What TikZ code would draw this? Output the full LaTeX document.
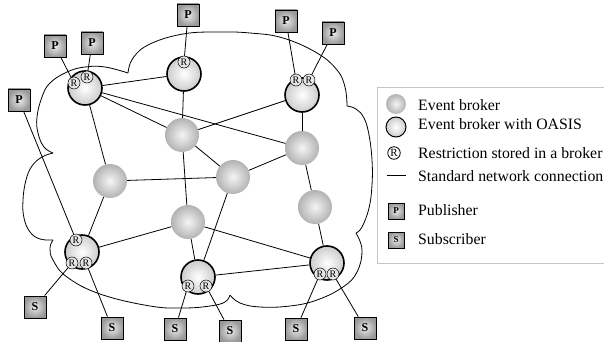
\documentclass[tikz,border=0pt]{standalone}
\usepackage{fontspec}
\setmainfont{Liberation Serif}

\tikzstyle{broker}=[circle, minimum size=34pt, inner sep=0pt, inner color=gray!8, outer color=gray!60]
\tikzstyle{oasis}=[circle, minimum size=34pt, inner sep=0pt, draw, line width=1.6pt, inner color=white, outer color=gray!40]
\tikzstyle{restr}=[circle, minimum size=12pt, inner sep=0pt, draw, line width=0.5pt, fill=gray!20, font=\fontsize{10}{10}\selectfont]
\tikzstyle{client}=[rectangle, minimum size=22pt, inner sep=0pt, draw, line width=0.8pt, inner color=gray!15, outer color=gray!80, font=\fontsize{12}{12}\selectfont\bfseries]
\tikzstyle{link}=[line width=0.8pt]
\tikzstyle{legend}=[anchor=west, inner sep=0pt, font=\fontsize{15.8}{18}\selectfont]

\begin{document}
\begin{tikzpicture}[x=1pt, y=-1pt]
      \useasboundingbox (0,0) rectangle (604,342);

      \draw[link] plot[smooth, tension=0.7] coordinates {(128,73) (133,58) (150,44) (183,34) (217,32) (250,33) (283,38) (317,53) (337,70) (345,87) (347,106)};
      \draw[link] plot[smooth, tension=0.7] coordinates {(347,106) (356,109) (364,118) (369,135) (372,160) (372,185) (369,208) (362,227) (356,233)};
      \draw[link] plot[smooth, tension=0.7] coordinates {(356,233) (362,250) (357,272) (343,287) (317,300) (290,306) (260,307) (240,303) (230,295)};
      \draw[link] plot[smooth, tension=0.7] coordinates {(230,295) (225,302) (210,306) (183,308) (150,306) (100,294) (67,277) (53,260) (50,248) (53,240)};
      \draw[link] plot[smooth, tension=0.7] coordinates {(53,240) (40,239) (30,232) (24,218) (23,200) (26,180) (32,166) (42,157) (53,153)};
      \draw[link] plot[smooth, tension=0.7] coordinates {(53,153) (44,147) (38,133) (37,117) (42,97) (50,83) (67,72) (85,67) (105,67) (128,73)};

      \node[oasis] (oa) at (85, 88) {};
      \node[oasis] (ob) at (184, 74) {};
      \node[oasis] (oc) at (302, 95) {};
      \node[oasis] (od) at (82, 252) {};
      \node[oasis] (oe) at (198, 277) {};
      \node[oasis] (of) at (327, 263) {};

      \node[broker] (ea) at (182, 135) {};
      \node[broker] (eb) at (302, 148) {};
      \node[broker] (ec) at (233, 177) {};
      \node[broker] (ed) at (110, 181) {};
      \node[broker] (ee) at (188, 222) {};
      \node[broker] (ef) at (315, 207) {};

      \node[restr] (ra1) at (74, 83) {R};
      \node[restr] (ra2) at (87, 77) {R};
      \node[restr] (rb1) at (184, 62) {R};
      \node[restr] (rc1) at (296, 80) {R};
      \node[restr] (rc2) at (309, 80) {R};
      \node[restr] (rd1) at (76, 240) {R};
      \node[restr] (rd2) at (72, 263) {R};
      \node[restr] (rd3) at (86, 263) {R};
      \node[restr] (re1) at (188, 286) {R};
      \node[restr] (re2) at (206, 286) {R};
      \node[restr] (rf1) at (320, 274) {R};
      \node[restr] (rf2) at (333, 274) {R};

      \node[client] (p1) at (19, 100) {P};
      \node[client] (p2) at (55, 46) {P};
      \node[client] (p3) at (92, 43) {P};
      \node[client] (p4) at (188, 15) {P};
      \node[client] (p5) at (286, 21) {P};
      \node[client] (p6) at (333, 33) {P};

      \node[client] (s1) at (35, 307) {S};
      \node[client] (s2) at (112, 328) {S};
      \node[client] (s3) at (175, 329) {S};
      \node[client] (s4) at (230, 331) {S};
      \node[client] (s5) at (296, 329) {S};
      \node[client] (s6) at (365, 328) {S};

      \draw[link] (oa) to (ob);
      \draw[link] (oa) to (ea);
      \draw[link] (oa) to (eb);
      \draw[link] (oa) to (ed);
      \draw[link] (ob) to (ea);
      \draw[link] (oc) to (ea);
      \draw[link] (oc) to (eb);
      \draw[link] (ea) to (ec);
      \draw[link] (ea) to (ee);
      \draw[link] (ec) to (eb);
      \draw[link] (eb) to (ef);
      \draw[link] (ed) to (ec);
      \draw[link] (ed) to (od);
      \draw[link] (od) to (ee);
      \draw[link] (ee) to (oe);
      \draw[link] (ec) to (oe);
      \draw[link] (ee) to (of);
      \draw[link] (oe) to (of);
      \draw[link] (ef) to (of);

      \draw[link] (p1) to (rd1);
      \draw[link] (p2) to (ra1);
      \draw[link] (p3) to (ra2);
      \draw[link] (p4) to (rb1);
      \draw[link] (p5) to (rc1);
      \draw[link] (p6) to (rc2);
      \draw[link] (s1) to (rd2);
      \draw[link] (s2) to (rd3);
      \draw[link] (s3) to (re1);
      \draw[link] (s4) to (re2);
      \draw[link] (s5) to (rf1);
      \draw[link] (s6) to (rf2);

      \draw[gray!45, line width=0.8pt] (606,87) -- (377,87) -- (377,263) -- (606,263);
      \node[broker, minimum size=20pt] (lgb) at (396, 104) {};
      \node[oasis, minimum size=20pt, line width=1pt] (lgo) at (396, 127) {};
      \node[restr, fill=white, minimum size=12.5pt, line width=0.8pt, font=\fontsize{11}{11}\selectfont] (lgr) at (394, 153) {R};
      \coordinate (lgl1) at (387, 175);
      \coordinate (lgl2) at (406, 175);
      \draw[link] (lgl1) -- (lgl2);
      \node[client, minimum size=16pt, font=\fontsize{9}{9}\selectfont\bfseries] (lgp) at (396, 211) {P};
      \node[client, minimum size=16pt, font=\fontsize{9}{9}\selectfont\bfseries] (lgs) at (396, 240) {S};

      \node[legend] (tb) at (418, 105) {Event broker};
      \node[legend] (to) at (418, 124) {Event broker with OASIS};
      \node[legend] (tr) at (418, 153) {Restriction stored in a broker};
      \node[legend] (tl) at (418, 176) {Standard network connection};
      \node[legend] (tp) at (418, 210) {Publisher};
      \node[legend] (ts) at (418, 239) {Subscriber};
    \end{tikzpicture}
\end{document}
